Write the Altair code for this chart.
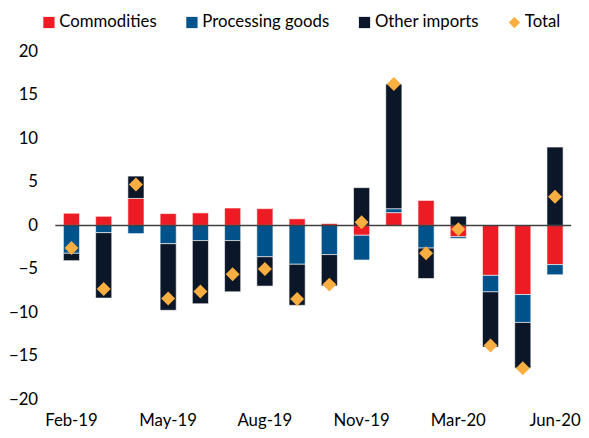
import altair as alt
import pandas as pd

months = ["Feb-19", "Mar-19", "Apr-19", "May-19", "Jun-19", "Jul-19", "Aug-19", "Sep-19",
          "Oct-19", "Nov-19", "Dec-19", "Feb-20", "Mar-20", "Apr-20", "May-20", "Jun-20"]
commodities = [1.4, 1.05, 3.1, 1.36, 1.44, 2.0, 1.93, 0.76, 0.22, -1.13, 1.47, 2.87, -1.3, -5.74, -7.94, -4.5]
processing = [-3.2, -0.83, -0.94, -2.1, -1.74, -1.74, -3.6, -4.46, -3.35, -2.84, 0.45, -2.6, -0.2, -1.89, -3.21, -1.17]
other = [-0.85, -7.52, 2.57, -7.65, -7.26, -5.89, -3.37, -4.72, -3.6, 4.34, 14.33, -3.5, 1.06, -6.35, -5.25, 9.0]
total = [-2.6, -7.3, 4.7, -8.4, -7.6, -5.6, -5.0, -8.45, -6.8, 0.37, 16.25, -3.2, -0.45, -13.8, -16.4, 3.3]

series_names = ["Commodities", "Processing goods", "Other imports", "Total"]
series_colors = ["#ED1C24", "#00538A", "#0B1628", "#F9AE41"]
series_shapes = ["square", "square", "square", "diamond"]
shown_labels = ["Feb-19", "May-19", "Aug-19", "Nov-19", "Mar-20", "Jun-20"]
y_ticks = [-20, -15, -10, -5, 0, 5, 10, 15, 20]

rows = []
for i, m in enumerate(months):
    for k, (name, vals) in enumerate(zip(series_names[:3], [commodities, processing, other])):
        rows.append({"month": m, "series": name, "value": vals[i], "ord": k})
bars_df = pd.DataFrame(rows)
tot_df = pd.DataFrame({"month": months, "value": total, "series": ["Total"] * len(months)})
zero_df = pd.DataFrame({"value": [0]})

FONT = "Lato"
FS = 17

x_enc = alt.X("month:N", sort=months, title=None,
              scale=alt.Scale(paddingInner=0.5, paddingOuter=0.25),
              axis=alt.Axis(values=shown_labels, labelAngle=0, ticks=False, domain=False,
                            labelPadding=13, labelFontSize=FS, labelFont=FONT, labelColor="#000000"))
y_scale = alt.Scale(domain=[-20, 20], nice=False)

legend = alt.Legend(
    title=None, orient="none", direction="horizontal", columns=4,
    legendX=-15, legendY=-38, symbolSize=130, labelFontSize=FS, labelFont=FONT,
    labelColor="#000000", columnPadding=27, labelOffset=2, symbolStrokeWidth=0,
)
color_scale = alt.Scale(domain=series_names, range=series_colors)

bars = alt.Chart(bars_df).mark_bar(stroke="white", strokeWidth=0.6).encode(
    x=x_enc,
    y=alt.Y("sum(value):Q", scale=y_scale, title=None,
            axis=alt.Axis(values=y_ticks, grid=False, ticks=False, domain=False, labelPadding=18,
                          labelFontSize=FS, labelFont=FONT, labelColor="#000000")),
    color=alt.Color("series:N", scale=color_scale, legend=legend),
    order=alt.Order("ord:Q"),
)

zero = alt.Chart(zero_df).mark_rule(color="#404040", strokeWidth=1.5).encode(
    y=alt.Y("value:Q", scale=y_scale),
)

points = alt.Chart(tot_df).mark_point(filled=True, size=200, opacity=1).encode(
    x=alt.X("month:N", sort=months),
    y=alt.Y("value:Q", scale=y_scale),
    color=alt.Color("series:N", scale=color_scale, legend=legend),
    shape=alt.Shape("series:N", scale=alt.Scale(domain=series_names, range=series_shapes), legend=legend),
)

chart = alt.layer(bars, zero, points).properties(
    width=523, height=353,
    autosize=alt.AutoSizeParams(type="none"),
    padding={"left": 48, "top": 41, "right": 10, "bottom": 30},
).configure_view(stroke=None)

chart.save("out.html", embed_options={"renderer": "svg", "actions": False})
